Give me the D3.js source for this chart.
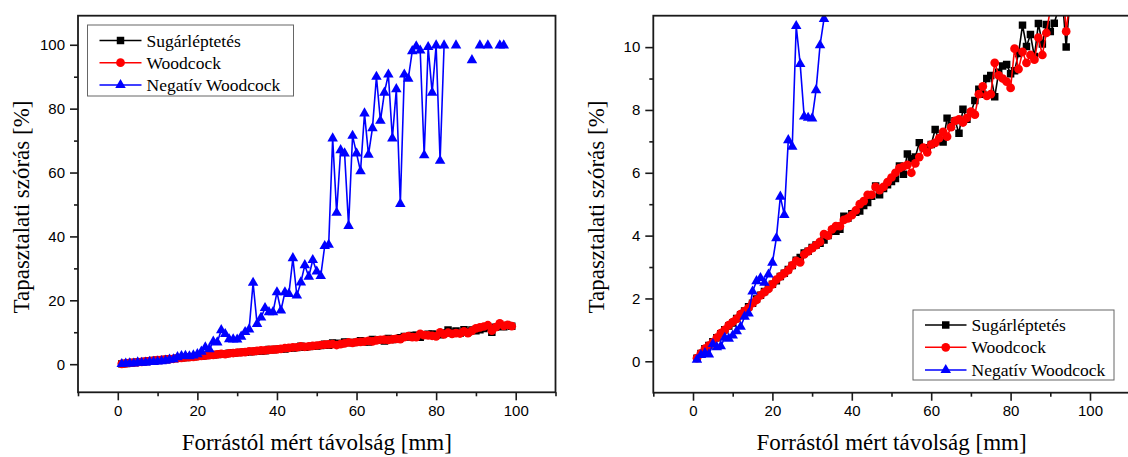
<!DOCTYPE html>
<html>
<head>
<meta charset="utf-8">
<script src="https://cdn.jsdelivr.net/npm/d3@7"></script>
<style>
  body { margin: 0; background: #fff; }
  svg { display: block; }
</style>
</head>
<body>
<div id="chart"></div>
<script>
// distance from source [mm]
const distances = [1,2,3,4,5,6,7,8,9,10,11,12,13,14,15,16,17,18,19,20,
  21,22,23,24,25,26,27,28,29,30,31,32,33,34,35,36,37,38,39,40,
  41,42,43,44,45,46,47,48,49,50,51,52,53,54,55,56,57,58,59,60,
  61,62,63,64,65,66,67,68,69,70,71,72,73,74,75,76,77,78,79,80,
  81,82,83,84,85,86,87,88,89,90,91,92,93,94,95,96,97,98,99]

// Sugárléptetés
const sugarleptetes = [0.10,0.25,0.40,0.50,0.62,0.75,0.88,1.00,1.12,1.22,
  1.36,1.48,1.60,1.74,1.85,1.98,2.10,2.22,2.35,2.45,
  2.56,2.70,2.80,2.92,3.05,3.22,3.30,3.45,3.50,3.62,
  3.70,3.76,3.86,4.00,4.15,4.14,4.20,4.62,4.55,4.70,
  4.74,4.78,4.96,5.05,5.25,5.58,5.30,5.50,5.62,5.72,
  5.82,6.22,5.95,6.60,6.45,6.50,6.96,6.80,6.75,6.90,
  7.38,7.02,6.98,7.74,7.50,7.66,7.26,8.02,7.70,7.90,
  8.30,8.66,8.50,9.00,9.10,8.42,9.20,9.40,9.45,9.15,
  9.25,9.80,10.70,10.02,10.40,9.70,10.75,10.10,10.72,10.50,
  10.76,11.20,11.60,10.00,11.60,11.85,11.70,12.10,11.90]

// Woodcock
const woodcock = [0.10,0.25,0.40,0.50,0.60,0.75,0.90,1.00,1.15,1.25,
  1.35,1.50,1.60,1.70,1.85,1.95,2.10,2.20,2.30,2.45,
  2.60,2.70,2.80,2.90,3.05,3.20,3.15,3.40,3.50,3.60,
  3.70,3.80,4.05,4.00,4.20,4.30,4.30,4.50,4.55,4.65,
  4.80,5.00,5.10,5.30,5.30,5.55,5.45,5.55,5.70,5.85,
  6.00,6.15,6.20,6.25,6.00,6.30,6.50,6.80,6.65,6.90,
  6.95,7.10,7.30,7.15,7.45,7.65,7.70,7.60,7.75,7.95,
  7.85,8.50,8.75,8.45,8.50,9.50,9.10,9.00,8.90,8.70,
  9.95,9.30,9.85,9.50,9.75,9.60,10.30,9.75,10.45,11.20,
  11.50,11.80,12.20,10.50,11.60,12.80,12.00,12.30,11.90]

// Negatív Woodcock (null = no value)
const negativWoodcock = [0.05,0.20,0.26,0.22,0.55,0.45,0.48,0.75,0.72,0.82,
  0.96,1.10,1.42,1.52,2.22,2.55,2.65,2.50,2.76,3.14,
  3.92,5.24,4.66,7.04,6.83,10.67,9.46,7.79,7.75,7.73,
  8.63,10.06,10.90,25.5,12.6,14.6,17.6,16.3,16.3,22.5,
  16.8,22.5,22.0,33.2,21.5,25.6,31.0,27.4,32.6,29.0,
  27.6,37.0,37.4,70.7,47.4,67.0,66.0,43.3,71.5,66.0,
  60.4,78.5,65.6,73.9,90.0,76.2,85.0,90.7,70.7,86.1,
  50.2,90.7,89.4,98.0,99.5,98.2,65.4,99.3,85.0,99.8,
  63.7,99.8,null,null,99.8,null,null,null,95.2,null,
  99.8,null,99.8,null,null,99.8,99.8,null,null]

const seriesNames = ["Sugárléptetés", "Woodcock", "Negatív Woodcock"]
const seriesColors = ["#000000", "#ff0000", "#0000ff"]
const seriesValues = [sugarleptetes, woodcock, negativWoodcock]

const xTicksMajor = [0, 20, 40, 60, 80, 100]
const xTicksMinor = [-10, 10, 30, 50, 70, 90, 110]
const yTicksLeftMajor = [0, 20, 40, 60, 80, 100]
const yTicksLeftMinor = [10, 30, 50, 70, 90]
const yTicksRightMajor = [0, 2, 4, 6, 8, 10]
const yTicksRightMinor = [1, 3, 5, 7, 9]

const xLabel = "Forrástól mért távolság [mm]"
const yLabel = "Tapasztalati szórás [%]"

const width = 1128
const height = 457

const symbols = [d3.symbolSquare, d3.symbolCircle, d3.symbolTriangle]
const symbolSizes = [56, 60, 48]

// build table from arrays
const series = seriesNames.map((name, k) => ({
  name,
  color: seriesColors[k],
  symbol: symbols[k],
  size: symbolSizes[k],
  values: distances.map((d, i) => ({ x: d, y: seriesValues[k][i] }))
}))

const svg = d3.select("#chart").append("svg")
  .attr("width", width)
  .attr("height", height)
  .attr("viewBox", [0, 0, width, height])

function panel({
  id,
  xRange,
  yRange,
  xDomain = [-10, 110],
  yDomain,
  yMajor,
  yMinor,
  legendBox, // [x, y, w, h]
  legendRows,
  legendLine, // [x1, x2]
  yTitleX,
}) {
  const xScale = d3.scaleLinear(xDomain, xRange)
  const yScale = d3.scaleLinear(yDomain, yRange)

  const g = svg.append("g")

  g.append("clipPath")
    .attr("id", id)
    .append("rect")
    .attr("x", xRange[0])
    .attr("y", yRange[1])
    .attr("width", xRange[1] - xRange[0])
    .attr("height", yRange[0] - yRange[1])

  // data
  const plot = g.append("g").attr("clip-path", `url(#${id})`)
  const line = d3.line()
    .defined(d => d.y !== null)
    .x(d => xScale(d.x))
    .y(d => yScale(d.y))

  series.forEach(s => {
    plot.append("path")
      .datum(s.values)
      .attr("fill", "none")
      .attr("stroke", s.color)
      .attr("stroke-width", 1.6)
      .attr("stroke-linejoin", "round")
      .attr("d", line)
    plot.append("g")
      .selectAll("path")
      .data(s.values.filter(d => d.y !== null))
      .join("path")
      .attr("transform", d => `translate(${xScale(d.x)},${yScale(d.y)})`)
      .attr("fill", s.color)
      .attr("d", d3.symbol(s.symbol, s.size))
  })

  // frame
  g.append("rect")
    .attr("x", xRange[0])
    .attr("y", yRange[1])
    .attr("width", xRange[1] - xRange[0])
    .attr("height", yRange[0] - yRange[1])
    .attr("fill", "none")
    .attr("stroke", "#1a1a1a")
    .attr("stroke-width", 1.8)

  const tickStyle = sel => sel
    .call(a => a.select(".domain").remove())
    .call(a => a.selectAll(".tick line").attr("stroke", "#1a1a1a").attr("stroke-width", 1.6))
    .call(a => a.selectAll(".tick text")
      .attr("font-family", "'Liberation Sans', Arial, sans-serif")
      .attr("font-size", 15)
      .attr("fill", "#000"))

  // axis x
  g.append("g")
    .attr("transform", `translate(0,${yRange[0]})`)
    .call(d3.axisBottom(xScale).tickValues(xTicksMajor).tickSize(8).tickPadding(5))
    .call(tickStyle)
  g.append("g")
    .attr("transform", `translate(0,${yRange[0]})`)
    .call(d3.axisBottom(xScale).tickValues(xTicksMinor).tickSize(4).tickFormat(""))
    .call(tickStyle)

  // axis y
  g.append("g")
    .attr("transform", `translate(${xRange[0]},0)`)
    .call(d3.axisLeft(yScale).tickValues(yMajor).tickSize(8).tickPadding(5))
    .call(tickStyle)
  g.append("g")
    .attr("transform", `translate(${xRange[0]},0)`)
    .call(d3.axisLeft(yScale).tickValues(yMinor).tickSize(4).tickFormat(""))
    .call(tickStyle)

  // titles
  g.append("text")
    .attr("x", (xRange[0] + xRange[1]) / 2)
    .attr("y", 450)
    .attr("text-anchor", "middle")
    .attr("font-family", "'Liberation Serif', 'Times New Roman', serif")
    .attr("font-size", 23)
    .text(xLabel)
  g.append("text")
    .attr("transform", `translate(${yTitleX},207) rotate(-90)`)
    .attr("text-anchor", "middle")
    .attr("font-family", "'Liberation Serif', 'Times New Roman', serif")
    .attr("font-size", 23)
    .text(yLabel)

  // legend
  const legend = g.append("g")
  legend.append("rect")
    .attr("x", legendBox[0])
    .attr("y", legendBox[1])
    .attr("width", legendBox[2])
    .attr("height", legendBox[3])
    .attr("fill", "#fff")
    .attr("stroke", "#666")
    .attr("stroke-width", 1)
  series.forEach((s, k) => {
    const ly = legendRows[k]
    legend.append("line")
      .attr("x1", legendLine[0])
      .attr("x2", legendLine[1])
      .attr("y1", ly)
      .attr("y2", ly)
      .attr("stroke", s.color)
      .attr("stroke-width", 1.6)
    legend.append("path")
      .attr("transform", `translate(${(legendLine[0] + legendLine[1]) / 2},${ly})`)
      .attr("fill", s.color)
      .attr("d", d3.symbol(s.symbol, s.size))
    legend.append("text")
      .attr("x", legendLine[1] + 5)
      .attr("y", ly + 6)
      .attr("font-family", "'Liberation Serif', 'Times New Roman', serif")
      .attr("font-size", 17.5)
      .text(s.name)
  })
}

// left: full range
panel({
  id: "clip-left",
  xRange: [78, 555.5],
  yRange: [392.3, 15.7],
  yDomain: [-8.8, 109.1],
  yMajor: yTicksLeftMajor,
  yMinor: yTicksLeftMinor,
  legendBox: [87.5, 25, 206, 71],
  legendRows: [40.5, 62.7, 85],
  legendLine: [99.5, 141.5],
  yTitleX: 29,
})

// right: zoomed range
panel({
  id: "clip-right",
  xRange: [653.3, 1129.7],
  yRange: [392.7, 15.7],
  yDomain: [-1, 11],
  yMajor: yTicksRightMajor,
  yMinor: yTicksRightMinor,
  legendBox: [913, 310, 201, 70],
  legendRows: [325, 347.3, 370],
  legendLine: [925, 966.5],
  yTitleX: 604,
})
</script>
</body>
</html>
